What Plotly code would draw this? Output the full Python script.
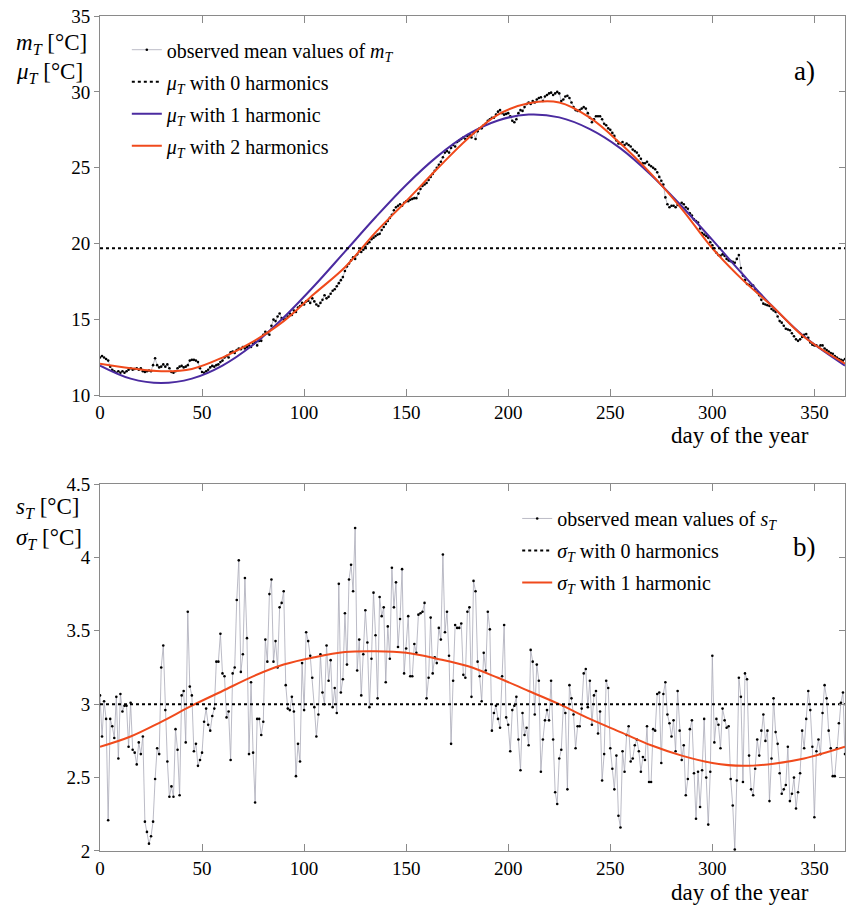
import plotly.graph_objects as go

# ---------------- data ----------------
DAYS = list(range(366))

# panel a: observed daily mean temperature m_T (deg C), days 0..365
M_T_OBS = [
    12.5, 12.6, 12.5, 12.4, 12.3, 11.9, 11.7, 11.6, 11.5, 11.6,
    11.5, 11.6, 11.5, 11.6, 11.7, 11.8, 11.7, 11.75, 11.8, 11.7,
    11.8, 11.6, 11.55, 11.6, 11.65, 11.6, 12.0, 12.45, 12.0, 11.85,
    11.9, 12.05, 11.9, 12.05, 11.8, 11.55, 11.5, 11.6, 11.8, 11.9,
    11.95, 11.85, 11.9, 12.0, 12.3, 12.35, 12.35, 12.3, 12.2, 11.8,
    11.55, 11.5, 11.6, 11.7, 11.85, 11.95, 11.9, 12.0, 12.05, 12.2,
    12.3, 12.5, 12.6, 12.5, 12.85, 12.9, 12.8, 13.0, 13.1, 13.05,
    13.2, 13.1, 13.2, 13.3, 13.2, 13.4, 13.5, 13.3, 13.6, 13.6,
    14.0, 14.2, 14.1, 14.0, 14.6, 15.0, 14.9, 15.2, 15.4, 15.1,
    15.0, 15.05, 15.2, 15.4, 15.3, 15.6, 15.5, 15.8, 15.9, 16.1,
    16.0, 16.2, 16.25, 16.1, 16.4, 16.2, 16.0, 15.9, 16.1, 16.3,
    16.6, 16.4, 16.5, 16.7, 16.9, 17.0, 17.2, 17.4, 17.6, 17.8,
    18.2, 18.5, 18.7, 18.9, 19.1, 19.0, 19.3, 19.5, 19.45, 19.6,
    19.8, 20.0, 20.1, 20.3, 20.4, 20.5, 20.6, 20.65, 20.9, 21.1,
    21.3, 21.5, 21.7, 21.9, 22.2, 22.4, 22.5, 22.6, 22.5, 22.7,
    22.8, 22.8, 22.9, 22.95, 23.0, 23.0, 23.3, 23.6, 23.8, 23.9,
    24.0, 24.2, 24.4, 24.6, 24.8, 25.0, 25.2, 25.4, 25.7, 26.0,
    26.1, 26.0, 26.3, 26.5, 26.4, 26.7, 26.8, 26.9, 27.0, 26.9,
    27.1, 27.2, 27.0, 27.3, 26.9, 27.4, 27.6, 27.6, 27.8, 27.9,
    28.1, 28.2, 28.3, 28.3, 28.5, 28.7, 28.8, 28.6, 28.5, 28.55,
    28.6, 28.4, 28.1, 28.0, 28.2, 28.6, 28.8, 28.75, 29.0, 29.2,
    29.3, 29.2, 29.4, 29.3, 29.5, 29.6, 29.65, 29.4, 29.7, 29.8,
    29.9, 29.95, 29.8, 29.9, 30.0, 29.9, 29.4, 29.5, 29.7, 29.75,
    29.6, 29.3, 29.0, 28.8, 28.75, 28.8, 28.9, 29.0, 28.9, 28.6,
    28.3, 28.0, 28.2, 28.4, 28.4, 28.4, 28.2, 27.9, 27.8, 27.6,
    27.5, 27.3, 27.1, 26.8, 26.6, 26.6, 26.7, 26.5, 26.6, 26.5,
    26.4, 26.2, 26.1, 26.0, 25.8, 25.6, 25.3, 25.3, 25.4, 25.2,
    25.1, 25.0, 24.9, 24.7, 24.4, 24.15, 23.9, 23.05, 22.6, 22.4,
    22.5, 22.5, 22.4, 22.55, 22.6, 22.7, 22.6, 22.4, 22.3, 22.0,
    21.85, 21.6, 21.5, 21.4, 21.0, 20.7, 20.6, 20.5, 20.4, 20.1,
    19.9, 19.7, 19.4, 19.25, 19.2, 19.3, 19.2, 19.0, 18.9, 18.85,
    18.8, 18.75, 19.0, 19.25, 18.4, 17.9, 17.6, 17.35, 17.3, 17.2,
    17.24, 17.0, 16.8, 16.6, 16.3, 16.05, 16.0, 15.95, 15.9, 15.7,
    15.6, 15.5, 15.2, 14.9, 14.8, 14.6, 14.4, 14.35, 14.3, 14.1,
    13.9, 13.7, 13.6, 13.7, 13.85, 14.0, 14.05, 13.8, 13.5, 13.35,
    13.3, 13.3, 13.2, 13.3, 13.3, 13.1, 13.0, 12.9, 12.8, 12.75,
    12.6, 12.5, 12.4, 12.35, 12.3, 12.4,
]

FIT_DAYS = [0, 15, 30, 45, 60, 75, 90, 105, 120, 135, 150, 165, 180, 195,
            210, 225, 240, 255, 270, 285, 300, 315, 330, 345, 365]
MU0 = 19.7
MU1 = [11.97, 11.11, 10.82, 11.11, 11.97, 13.34, 15.14, 17.23, 19.48, 21.74,
       23.87, 25.72, 27.18, 28.12, 28.51, 28.32, 27.55, 26.28, 24.53, 22.47,
       20.25, 17.97, 15.80, 13.89, 11.97]
MU2 = [12.1, 11.8, 11.6, 11.75, 12.5, 13.55, 14.9, 16.7, 18.45, 20.75,
       22.8, 24.9, 26.9, 28.5, 29.25, 29.3, 28.3, 26.6, 24.6, 22.3,
       19.7, 17.6, 15.8, 13.85, 12.1]

# panel b: observed daily standard deviation s_T (deg C), days 0..365
S_T_OBS = [
    3.06, 2.78, 3.02, 2.90, 2.21, 2.90, 2.85, 2.77, 3.05, 2.63,
    3.07, 2.95, 2.99, 2.99, 2.71, 3.01, 2.69, 2.67, 2.59, 2.74,
    2.66, 2.78, 2.20, 2.13, 2.05, 2.10, 2.20, 2.49, 2.70, 2.66,
    3.25, 3.40, 2.96, 2.61, 2.37, 2.44, 2.37, 2.83, 2.69, 2.38,
    3.06, 3.09, 2.74, 3.63, 3.12, 3.06, 2.68, 2.73, 2.58, 2.62,
    2.67, 2.88, 2.97, 2.86, 2.82, 2.92, 2.97, 3.29, 3.29, 3.48,
    3.21,
    3.19, 2.91, 2.95, 2.62, 3.21, 3.25, 3.71, 3.98, 3.22, 3.34,
    3.86, 3.45, 2.66, 3.15, 2.67, 2.33, 2.90, 2.90, 2.79, 2.88,
    3.44, 3.29, 3.75, 3.85, 3.29, 3.43, 3.25, 3.66, 3.69, 3.77,
    3.13, 2.97, 2.96, 3.05, 2.95, 2.51, 2.73, 2.61, 3.28, 2.96,
    3.49, 3.43, 3.33, 3.18, 2.98, 2.78, 2.93, 3.34, 3.08, 3.00,
    3.40, 3.16, 3.30, 2.98, 3.11, 2.94, 3.82, 3.08, 3.17, 3.62,
    3.27,
    3.85, 3.95, 3.77, 4.20, 3.23, 3.44, 3.06, 3.34, 3.64, 3.42,
    2.98, 3.31, 3.76, 3.47, 3.04, 3.73, 3.60, 3.66, 3.15, 3.53,
    3.31, 3.93, 3.66, 3.83, 3.39, 3.58, 3.92, 3.21, 3.38, 3.60,
    3.19, 3.19, 3.41, 3.35, 3.61, 3.62, 3.63, 3.69, 3.04, 3.18,
    3.59, 3.21, 3.32, 3.28, 3.52, 3.44, 4.02, 3.49, 3.63, 3.33,
    2.73, 3.16, 3.54, 3.52, 3.52, 3.55, 3.20, 3.18, 3.63, 3.66,
    3.05,
    3.84, 3.77, 3.29, 3.19, 3.02, 3.35, 3.23, 3.63, 3.51, 2.82,
    2.94, 2.99, 2.90, 2.84, 3.19, 3.54, 2.91, 2.86, 2.68, 2.96,
    2.99, 3.05, 2.76, 2.55, 2.94, 2.79, 2.84, 2.72, 3.37, 3.29,
    2.93, 3.27, 3.16, 2.54, 2.76, 2.89, 2.96, 2.89, 3.16, 2.76,
    2.40, 2.32, 2.63, 2.69, 2.99, 2.94, 2.42, 3.13, 3.04, 2.93,
    2.70, 2.85, 2.85, 2.97, 3.21, 3.24, 2.98, 3.16, 2.86, 3.06,
    3.09, 2.80,
    2.95, 2.48, 2.66, 3.16, 3.11, 2.70, 2.56, 2.42, 2.65, 2.24,
    2.16, 2.68, 2.54, 2.79, 2.85, 2.61, 2.63, 2.72, 2.76, 2.68,
    2.54, 2.64, 2.62, 2.85, 2.47, 2.47, 2.83, 2.82, 3.07, 3.08,
    2.60, 3.07, 3.15, 2.93, 2.87, 2.78, 2.89, 2.68, 3.09, 2.82,
    2.62, 2.72, 2.38, 2.49, 2.83, 2.89, 2.53, 2.22, 2.54, 2.30,
    2.55, 2.90, 2.50, 2.18, 2.54, 3.33, 2.74, 2.90, 2.86, 2.70,
    2.97,
    2.89, 2.84, 2.85, 2.49, 2.31, 2.01, 2.48, 3.18, 3.05, 2.47,
    3.21, 3.17, 2.65, 2.42, 2.38, 2.56, 2.76, 2.65, 2.82, 2.93,
    2.75, 2.82, 2.34, 2.63, 3.04, 2.81, 2.73, 2.53, 2.39, 2.42,
    2.45, 2.71, 2.34, 2.39, 2.50, 2.29, 2.40, 2.53, 2.82, 2.70,
    2.90, 3.09, 2.96, 2.71, 2.23, 2.68, 2.76, 2.66, 2.94, 3.13,
    3.04, 2.82, 2.70, 2.51, 2.51, 2.70, 2.87, 3.01, 3.08, 2.66,
]

SIG0 = 3.0
SIG1 = [2.71, 2.78, 2.88, 2.99, 3.09, 3.19, 3.27, 3.32, 3.355, 3.36,
        3.35, 3.31, 3.26, 3.18, 3.09, 3.00, 2.90, 2.81, 2.72, 2.65,
        2.60, 2.58, 2.595, 2.63, 2.71]

X_TICKS = [0, 50, 100, 150, 200, 250, 300, 350]
YA_TICKS = [10, 15, 20, 25, 30, 35]
YB_TICKS = [2, 2.5, 3, 3.5, 4, 4.5]
YB_TEXT = ["2", "2.5", "3", "3.5", "4", "4.5"]

# ---------------- styles ----------------
FONT = "Liberation Serif"
PURPLE = "#4b2ba0"
RED = "#f04a1c"
OBS_LINE = "#a9a9b8"
AX = "#8a8a8a"

fig = go.Figure()

# panel a
fig.add_trace(go.Scatter(x=DAYS, y=M_T_OBS, mode="lines+markers",
                         line=dict(color=OBS_LINE, width=0.8),
                         marker=dict(color="black", size=2.6),
                         name="observed mean values of <i>m</i><sub><i>T</i></sub>",
                         legend="legend", legendgroup="a1",
                         xaxis="x", yaxis="y"))
fig.add_trace(go.Scatter(x=[DAYS[0], DAYS[-1]], y=[MU0, MU0], mode="lines",
                         line=dict(color="black", width=2, dash="dot"),
                         name="<i>μ</i><sub><i>T</i></sub> with 0 harmonics",
                         legend="legend", legendgroup="a2",
                         xaxis="x", yaxis="y3"))
fig.add_trace(go.Scatter(x=FIT_DAYS, y=MU1, mode="lines",
                         line=dict(color=PURPLE, width=2, shape="spline", smoothing=1.0),
                         name="<i>μ</i><sub><i>T</i></sub> with 1 harmonic",
                         legend="legend", legendgroup="a3",
                         xaxis="x", yaxis="y"))
fig.add_trace(go.Scatter(x=FIT_DAYS, y=MU2, mode="lines",
                         line=dict(color=RED, width=2, shape="spline", smoothing=1.0),
                         name="<i>μ</i><sub><i>T</i></sub> with 2 harmonics",
                         legend="legend", legendgroup="a4",
                         xaxis="x", yaxis="y"))

# panel b
fig.add_trace(go.Scatter(x=DAYS, y=S_T_OBS, mode="lines+markers",
                         line=dict(color=OBS_LINE, width=0.8),
                         marker=dict(color="black", size=2.6),
                         name="observed mean values of <i>s</i><sub><i>T</i></sub>",
                         legend="legend2", legendgroup="b1",
                         xaxis="x2", yaxis="y2"))
fig.add_trace(go.Scatter(x=[DAYS[0], DAYS[-1]], y=[SIG0, SIG0], mode="lines",
                         line=dict(color="black", width=2, dash="dot"),
                         name="<i>σ</i><sub><i>T</i></sub> with 0 harmonics",
                         legend="legend2", legendgroup="b2",
                         xaxis="x2", yaxis="y4"))
fig.add_trace(go.Scatter(x=FIT_DAYS, y=SIG1, mode="lines",
                         line=dict(color=RED, width=2, shape="spline", smoothing=1.0),
                         name="<i>σ</i><sub><i>T</i></sub> with 1 harmonic",
                         legend="legend2", legendgroup="b3",
                         xaxis="x2", yaxis="y2"))

xcommon = dict(range=[0, 365], tickvals=X_TICKS, ticks="inside", ticklen=7,
               tickcolor=AX, showline=True, linecolor=AX, linewidth=1,
               mirror="ticks", showgrid=False, zeroline=False, automargin=False,
               tickfont=dict(family=FONT, size=19, color="black"))
ycommon = dict(ticks="outside", ticklen=5, tickcolor=AX, showline=True,
               linecolor=AX, linewidth=1, mirror=True, showgrid=False,
               zeroline=False, automargin=False, ticklabeloverflow="allow",
               tickfont=dict(family=FONT, size=19, color="black"))

DOM_A = [0.5455, 1.0]
DOM_B = [0.0, 0.4395]

leg = dict(font=dict(family=FONT, size=20, color="black"), bgcolor="rgba(0,0,0,0)",
           traceorder="grouped", tracegroupgap=3, itemwidth=30,
           xanchor="left", yanchor="top")

fig.update_layout(
    width=849, height=912,
    margin=dict(l=100, r=4, t=16, b=61),
    paper_bgcolor="white", plot_bgcolor="white",
    font=dict(family=FONT, color="black"),
    xaxis=dict(xcommon, anchor="y"),
    xaxis2=dict(xcommon, anchor="y2"),
    yaxis=dict(ycommon, domain=DOM_A, range=[10, 35], tickvals=YA_TICKS, anchor="x"),
    yaxis3=dict(domain=DOM_A, range=[10, 35], tickvals=YA_TICKS, overlaying="y",
                side="right", anchor="x", ticks="inside", ticklen=6, tickcolor=AX,
                showticklabels=False, showgrid=False, zeroline=False, showline=False,
                automargin=False),
    yaxis2=dict(ycommon, domain=DOM_B, range=[2, 4.5], tickvals=YB_TICKS,
                ticktext=YB_TEXT, anchor="x2"),
    yaxis4=dict(domain=DOM_B, range=[2, 4.5], tickvals=YB_TICKS, overlaying="y2",
                side="right", anchor="x2", ticks="inside", ticklen=6, tickcolor=AX,
                showticklabels=False, showgrid=False, zeroline=False, showline=False,
                automargin=False),
    legend=dict(leg, x=0.036, y=0.983),
    legend2=dict(leg, x=0.560, y=0.4216),
    showlegend=True,
)

ann_font = dict(family=FONT, size=23, color="black")
annotations = [
    dict(text="a)", x=0.946, y=0.934, font=dict(family=FONT, size=27, color="black")),
    dict(text="b)", x=0.946, y=0.364, font=dict(family=FONT, size=27, color="black")),
    dict(text="<i>m</i><sub><i>T</i></sub> [°C]", x=-0.115, y=0.966, xanchor="left", font=ann_font),
    dict(text="<i>μ</i><sub><i>T</i></sub> [°C]", x=-0.115, y=0.932, xanchor="left", font=ann_font),
    dict(text="<i>s</i><sub><i>T</i></sub> [°C]", x=-0.115, y=0.411, xanchor="left", font=ann_font),
    dict(text="<i>σ</i><sub><i>T</i></sub> [°C]", x=-0.115, y=0.3735, xanchor="left", font=ann_font),
    dict(text="day of the year", x=0.859, y=0.4975, font=dict(family=FONT, size=23, color="black")),
    dict(text="day of the year", x=0.859, y=-0.050, font=dict(family=FONT, size=23, color="black")),
]
for a in annotations:
    a.update(xref="paper", yref="paper", showarrow=False)
    a.setdefault("xanchor", "center")
    a.setdefault("yanchor", "middle")
fig.update_layout(annotations=annotations)

# remove the browser's default 8 px body margin so the figure sits at the page origin
fig.write_html("out.html", config={"displayModeBar": False},
               post_script="document.body.style.margin='0px';")
